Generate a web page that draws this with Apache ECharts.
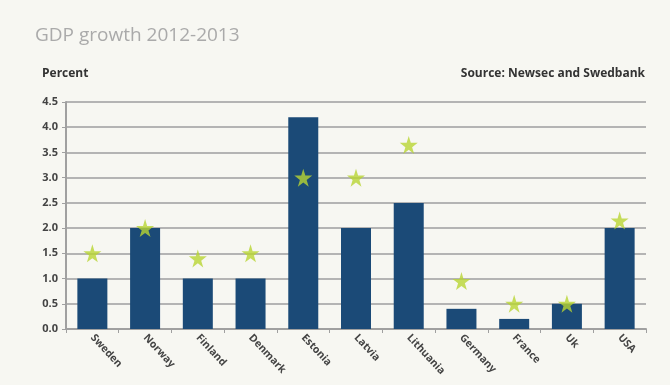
<!DOCTYPE html>
<html>
<head>
<meta charset="utf-8">
<script src="https://cdn.jsdelivr.net/npm/echarts@6/dist/echarts.min.js"></script>
<style>
  html, body { margin: 0; padding: 0; background: #f7f7f2; }
  #chart { width: 670px; height: 385px; }
</style>
</head>
<body>
<div id="chart"></div>
<script>
// countries on the x axis
var countries = ["Sweden", "Norway", "Finland", "Denmark", "Estonia", "Latvia",
  "Lithuania", "Germany", "France", "Uk", "USA"];
// bars (2012)
var barValues = [1.0, 2.0, 1.0, 1.0, 4.2, 2.0, 2.5, 0.4, 0.2, 0.5, 2.0];
// stars (2013)
var starValues = [1.5, 2.0, 1.4, 1.5, 3.0, 3.0, 3.65, 0.95, 0.5, 0.5, 2.15];

var starPath = 'path://M50,0 L61,35 L98,35 L68,57 L79,91 L50,70 L21,91 L32,57 L2,35 L39,35 Z';

var myChart = echarts.init(document.getElementById("chart"));

var option = {
  backgroundColor: "#f7f7f2",
  animation: false,
  title: [
    {
      text: "GDP growth 2012-2013",
      left: 30, top: 21,
      textStyle: { fontFamily: "Open Sans", fontWeight: "normal", fontSize: 19, color: "#aaaaaa" }
    },
    {
      text: "Percent",
      left: 37, top: 63,
      textStyle: { fontFamily: "Open Sans", fontWeight: "bold", fontSize: 12, color: "#333" }
    },
    {
      text: "Source: Newsec and Swedbank",
      right: 20, top: 63,
      textStyle: { fontFamily: "Open Sans", fontWeight: "bold", fontSize: 12, color: "#333" }
    }
  ],
  grid: { left: 66, right: 24, top: 102, bottom: 56 },
  xAxis: {
    type: "category",
    data: countries,
    axisLine: { lineStyle: { color: "#a0a0a0", width: 2 } },
    axisTick: { show: true, length: 4, lineStyle: { color: "#a0a0a0" } },
    axisLabel: {
      rotate: -47,
      margin: 7,
      fontFamily: "Open Sans",
      fontWeight: "bold",
      fontSize: 10.5,
      color: "#444"
    }
  },
  yAxis: {
    type: "value",
    min: 0, max: 4.5, interval: 0.5,
    axisLine: { show: true, lineStyle: { color: "#a0a0a0", width: 2 } },
    axisTick: { show: true, length: 4, lineStyle: { color: "#a0a0a0" } },
    axisLabel: {
      formatter: function (v) { return v.toFixed(1); },
      margin: 8,
      fontFamily: "Open Sans",
      fontWeight: "bold",
      fontSize: 11,
      color: "#444"
    },
    splitLine: { lineStyle: { color: "#b4b4b4", width: 2 } }
  },
  series: [
    {
      type: "bar",
      data: barValues,
      barWidth: 30,
      itemStyle: { color: "#1b4a77" }
    },
    {
      type: "scatter",
      data: starValues,
      symbol: starPath,
      symbolSize: 18,
      itemStyle: { color: "#b8d432" },
      z: 5
    }
  ]
};

myChart.setOption(option);
</script>
</body>
</html>
